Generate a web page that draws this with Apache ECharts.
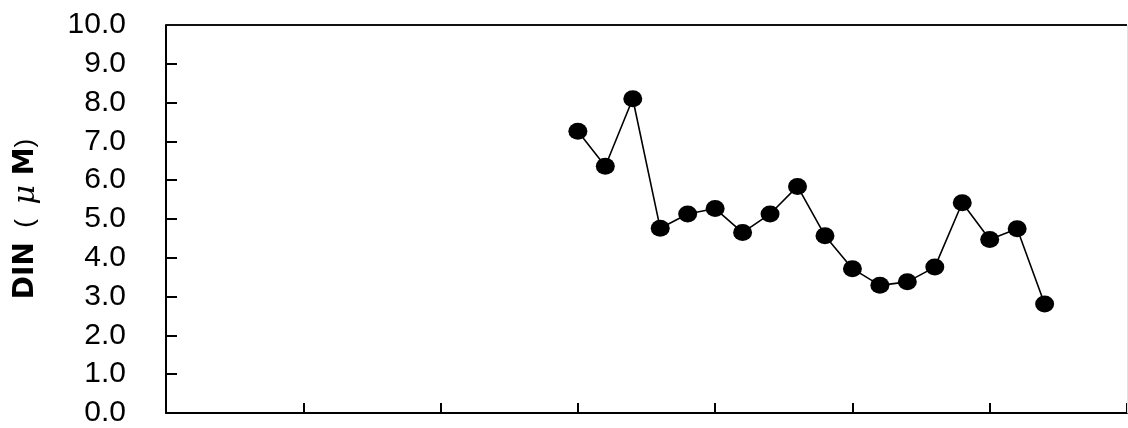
<!DOCTYPE html>
<html>
<head>
<meta charset="utf-8">
<script src="https://cdn.jsdelivr.net/npm/echarts@6/dist/echarts.min.js"></script>
<style>
  html, body { margin: 0; padding: 0; background: #fff; }
  #chart { width: 1128px; height: 428px; }
</style>
</head>
<body>
<div id="chart"></div>
<script>
// Sampling slots along the x axis (35 slots, ticks every 5)
const slots = [15, 16, 17, 18, 19, 20, 21, 22, 23, 24, 25, 26, 27, 28, 29, 30, 31, 32];
// Dissolved inorganic nitrogen, µM
const din = [7.26, 6.36, 8.10, 4.76, 5.13, 5.27, 4.65, 5.13, 5.84, 4.57, 3.72, 3.29, 3.38, 3.76, 5.42, 4.47, 4.75, 2.81];
// Y axis tick labels
const yTicks = ['0.0', '1.0', '2.0', '3.0', '4.0', '5.0', '6.0', '7.0', '8.0', '9.0', '10.0'];

const X_MAX = 35;
const Y_MAX = 10;
const points = slots.map((s, i) => [s, din[i]]);

const chart = echarts.init(document.getElementById('chart'), null, { renderer: 'canvas' });
chart.setOption({
  animation: false,
  backgroundColor: '#ffffff',
  grid: { left: 166, right: 1, top: 25, bottom: 14, containLabel: false },
  xAxis: {
    type: 'value', min: 0, max: X_MAX, interval: 5,
    axisLine: { show: true, onZero: false, lineStyle: { color: '#000', width: 2 } },
    axisTick: { show: true, inside: true, length: 10, lineStyle: { color: '#000', width: 2 } },
    axisLabel: { show: false },
    splitLine: { show: false }
  },
  yAxis: {
    type: 'value', min: 0, max: Y_MAX, interval: 1,
    name: '{b|DIN}{n|  (  }{mu|μ}{b| M}{n|)}',
    nameLocation: 'middle',
    nameGap: 125,
    nameRotate: 90,
    nameTextStyle: {
      color: '#000',
      rich: {
        b: { fontFamily: '"DejaVu Sans", sans-serif', fontSize: 28, fontWeight: 'bold', color: '#000' },
        n: { fontFamily: '"Liberation Sans", Arial, sans-serif', fontSize: 26, color: '#000' },
        mu: { fontFamily: '"DejaVu Serif", serif', fontSize: 30, fontStyle: 'italic', color: '#000' }
      }
    },
    axisLine: { show: true, lineStyle: { color: '#000', width: 2 } },
    axisTick: { show: true, inside: true, length: 11, lineStyle: { color: '#000', width: 2 } },
    axisLabel: {
      margin: 40, fontSize: 30, color: '#000', fontFamily: '"Liberation Sans", Arial, sans-serif',
      formatter: v => yTicks[Math.round(v)]
    },
    splitLine: { show: false }
  },
  series: [{
    type: 'line',
    data: points,
    symbol: 'circle',
    symbolSize: [19, 17],
    itemStyle: { color: '#000' },
    lineStyle: { color: '#000', width: 1.6 },
    z: 3,
    // Plot frame: top edge and right edge
    markLine: {
      silent: true,
      symbol: 'none',
      label: { show: false },
      data: [
        { yAxis: Y_MAX, lineStyle: { color: '#111', width: 2, type: 'solid' } },
        { xAxis: X_MAX, lineStyle: { color: '#e2e2e2', width: 1, type: 'solid' } }
      ]
    }
  }]
});
</script>
</body>
</html>
